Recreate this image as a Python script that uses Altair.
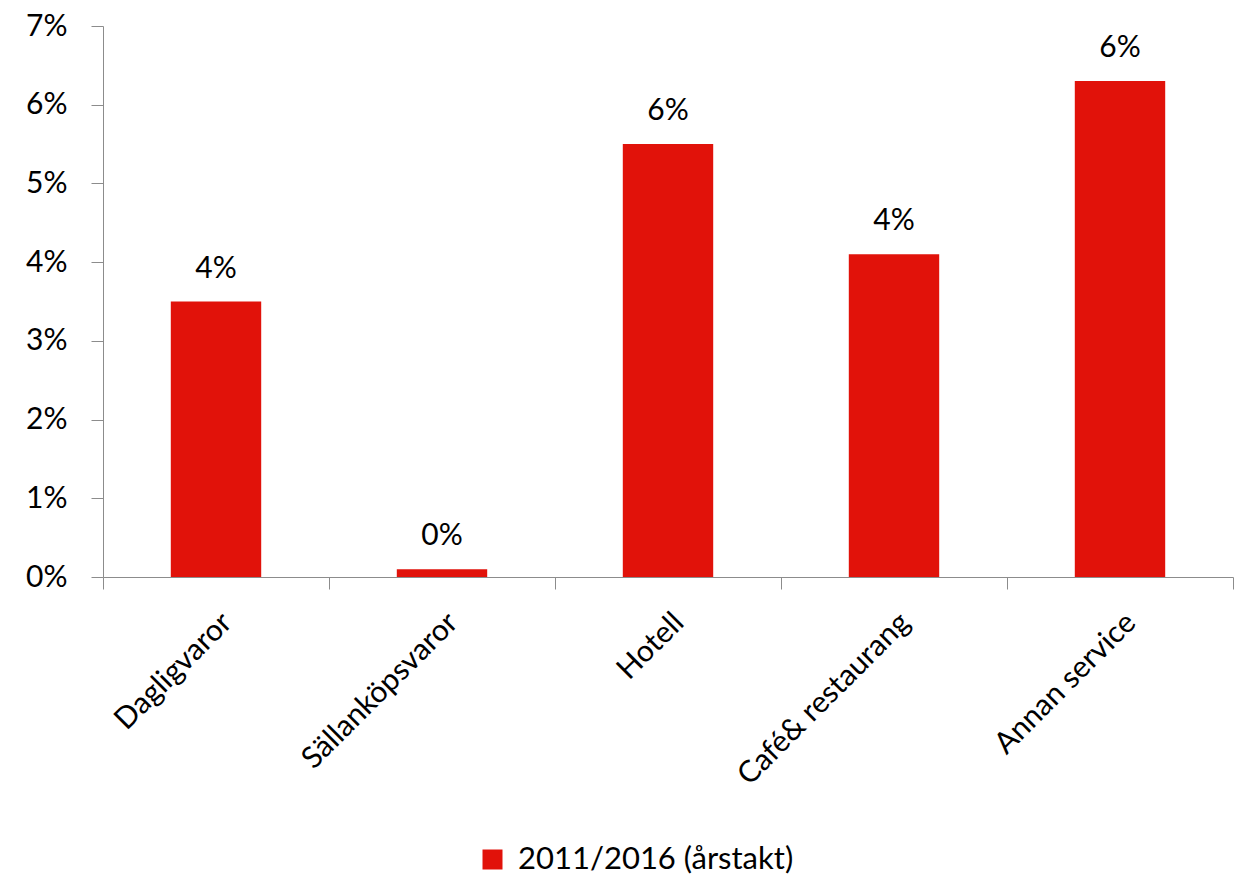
import altair as alt
import pandas as pd

categories = ["Dagligvaror", "Sällanköpsvaror", "Hotell", "Café& restaurang", "Annan service"]
values = [0.035, 0.001, 0.055, 0.041, 0.063]
labels = ["4%", "0%", "6%", "4%", "6%"]
series = "2011/2016 (årstakt)"

df = pd.DataFrame({"cat": categories, "val": values, "lab": labels, "series": [series] * 5})

W, H = 1130, 551
FONT = "Lato"
FS = 30
RED = "#E1120A"
AX = "#8c8c8c"

x_scale = alt.Scale(paddingInner=0, paddingOuter=0)
y_scale = alt.Scale(domain=[0, 0.07], nice=False)

x = alt.X("cat:N", sort=categories, title=None, scale=x_scale,
          axis=alt.Axis(labelAngle=-45, labelAlign="right", labelBaseline="top",
                        labelFont=FONT, labelFontSize=FS, labelColor="black",
                        labelPadding=18, tickBand="extent", tickSize=12, grid=False,
                        tickColor=AX, domainColor=AX, labelLimit=400))

y = alt.Y("val:Q", title=None, scale=y_scale,
          axis=alt.Axis(format=".0%", values=[0, 0.01, 0.02, 0.03, 0.04, 0.05, 0.06, 0.07],
                        labelFont=FONT, labelFontSize=FS, labelColor="black",
                        labelPadding=24, tickSize=12, tickColor=AX, domainColor=AX,
                        grid=False))

bars = alt.Chart(df).mark_bar(color=RED, width=alt.RelativeBandSize(0.4)).encode(
    x=x, y=y,
    color=alt.Color("series:N", scale=alt.Scale(range=[RED]),
                    legend=alt.Legend(title=None, orient="none", legendX=374, legendY=818,
                                      padding=0, symbolType="square", symbolSize=400,
                                      symbolStrokeWidth=0, labelOffset=10,
                                      labelFont=FONT, labelFontSize=31, labelColor="black",
                                      labelLimit=500))
)

text = alt.Chart(df).mark_text(font=FONT, fontSize=FS, color="black", dy=-18, baseline="bottom").encode(
    x=alt.X("cat:N", sort=categories, scale=x_scale),
    y=alt.Y("val:Q", scale=y_scale),
    text="lab:N"
)

chart = alt.layer(bars, text).properties(
    width=W, height=H,
    autosize=alt.AutoSizeParams(type="none"),
    padding={"left": 95, "top": 18, "right": 2, "bottom": 298},
).configure(font=FONT).configure_view(strokeWidth=0, stroke="transparent")

chart.save("out.html", embed_options={"renderer": "svg", "actions": False})
